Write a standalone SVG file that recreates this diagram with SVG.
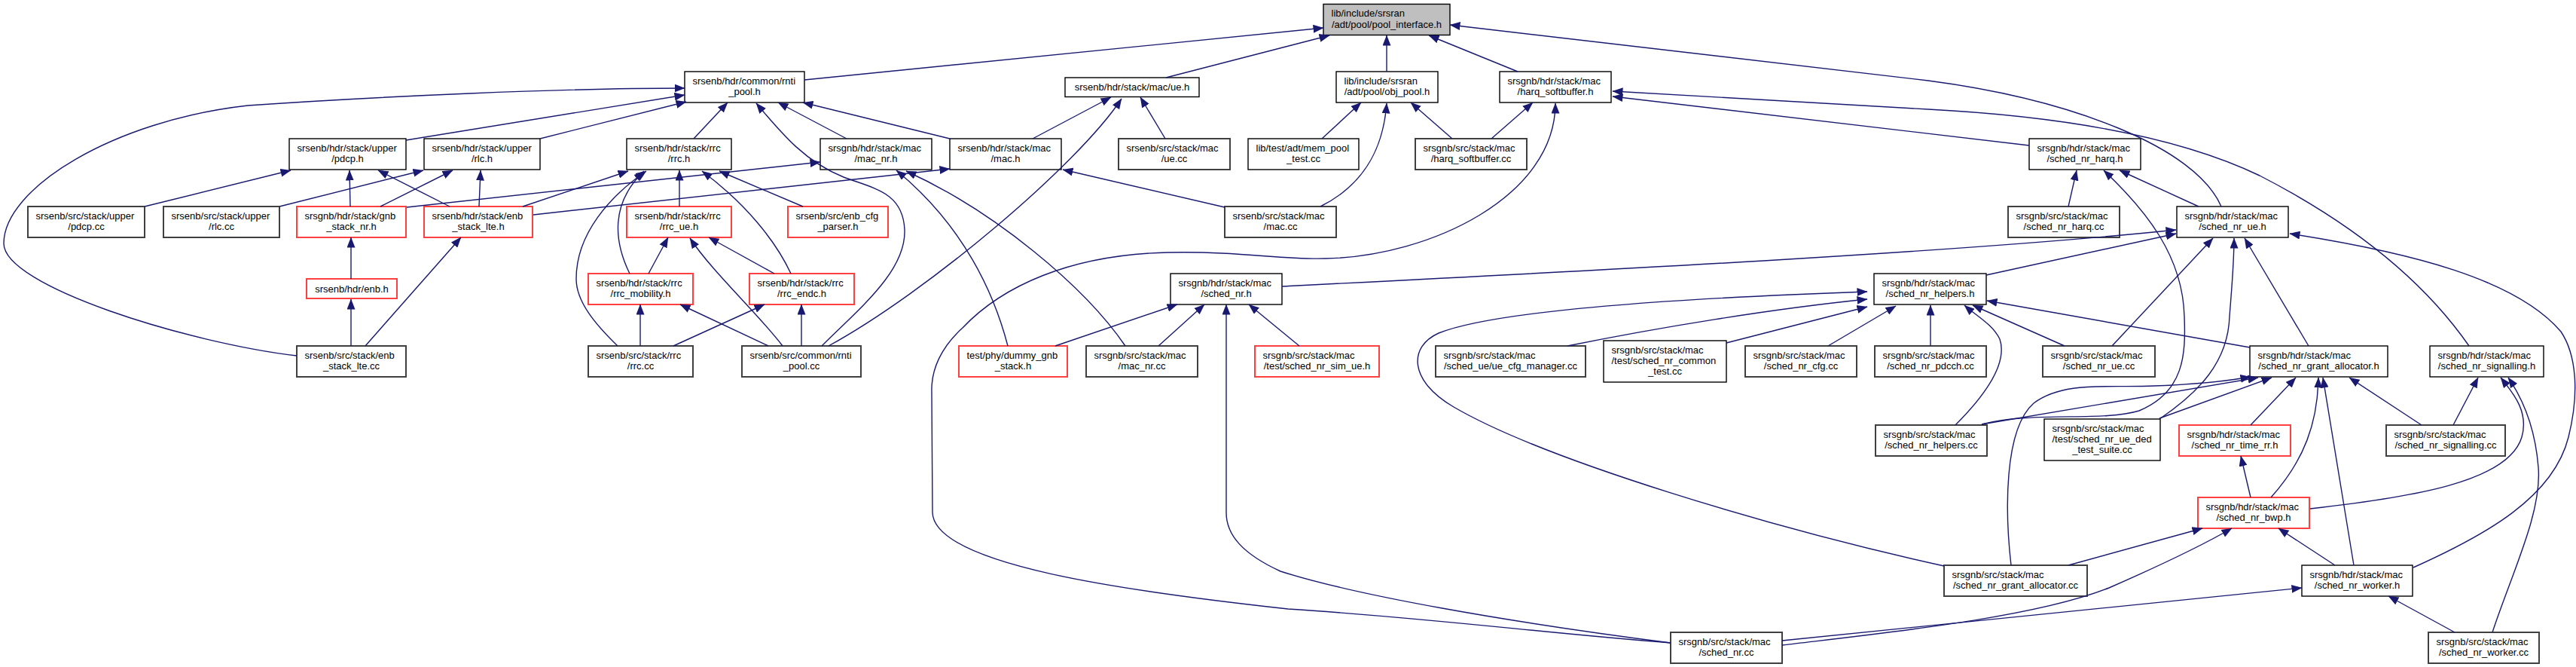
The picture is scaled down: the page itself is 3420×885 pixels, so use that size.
<svg xmlns="http://www.w3.org/2000/svg" width="3420" height="885" viewBox="0 0 3420 885">
<style>
text{font-family:"Liberation Sans",Arial,Helvetica,sans-serif;font-size:13px;fill:#000}
.c{text-anchor:middle}
rect.b{fill:#fff;stroke:#000;stroke-width:1.4}
rect.g{fill:#fff;stroke:#404040;stroke-width:2}
rect.r{fill:#fff;stroke:#ff4040;stroke-width:2}
rect.root{fill:#bfbfbf;stroke:#000;stroke-width:1.4}
#edges path{fill:none;stroke:#191970;stroke-width:1.4;marker-end:url(#a)}
</style>
<defs>
<marker id="a" markerUnits="userSpaceOnUse" markerWidth="14" markerHeight="11" refX="13.5" refY="5.5" orient="auto" viewBox="0 0 14 11"><path d="M0,0 L14,5.5 L0,11 z" fill="#191970"/></marker>
</defs>
<rect width="3420" height="885" fill="#fff"/>
<g id="nodes">
<g id="pool_interface"><rect class="root" x="1757" y="5.5" width="168" height="41"/><text x="1767.5" y="22.3">lib/include/srsran</text><text class="c" x="1841" y="36.7">/adt/pool/pool_interface.h</text></g>
<g id="rnti_pool_h"><rect class="b" x="909" y="95" width="159" height="41"/><text x="919.5" y="111.8">srsenb/hdr/common/rnti</text><text class="c" x="988.5" y="126.2">_pool.h</text></g>
<g id="ue_h"><rect class="b" x="1414" y="103" width="178" height="25.5"/><text class="c" x="1503" y="120.3">srsenb/hdr/stack/mac/ue.h</text></g>
<g id="obj_pool_h"><rect class="b" x="1774" y="95" width="135" height="41"/><text x="1784.5" y="111.8">lib/include/srsran</text><text class="c" x="1841.5" y="126.2">/adt/pool/obj_pool.h</text></g>
<g id="harq_sb_h"><rect class="b" x="1991" y="95" width="148" height="41"/><text x="2001.5" y="111.8">srsgnb/hdr/stack/mac</text><text class="c" x="2065" y="126.2">/harq_softbuffer.h</text></g>
<g id="pdcp_h"><rect class="b" x="384" y="184" width="155" height="41"/><text x="394.5" y="200.8">srsenb/hdr/stack/upper</text><text class="c" x="461.5" y="215.2">/pdcp.h</text></g>
<g id="rlc_h"><rect class="b" x="563" y="184" width="154" height="41"/><text x="573.5" y="200.8">srsenb/hdr/stack/upper</text><text class="c" x="640" y="215.2">/rlc.h</text></g>
<g id="rrc_h"><rect class="b" x="832" y="184" width="139" height="41"/><text x="842.5" y="200.8">srsenb/hdr/stack/rrc</text><text class="c" x="901.5" y="215.2">/rrc.h</text></g>
<g id="mac_nr_h"><rect class="b" x="1089" y="184" width="148" height="41"/><text x="1099.5" y="200.8">srsgnb/hdr/stack/mac</text><text class="c" x="1163" y="215.2">/mac_nr.h</text></g>
<g id="mac_h"><rect class="b" x="1261" y="184" width="148" height="41"/><text x="1271.5" y="200.8">srsenb/hdr/stack/mac</text><text class="c" x="1335" y="215.2">/mac.h</text></g>
<g id="ue_cc"><rect class="g" x="1485" y="184" width="148" height="41"/><text x="1495.5" y="200.8">srsenb/src/stack/mac</text><text class="c" x="1559" y="215.2">/ue.cc</text></g>
<g id="mem_pool_test"><rect class="b" x="1657" y="184" width="147" height="41"/><text x="1667.5" y="200.8">lib/test/adt/mem_pool</text><text class="c" x="1730.5" y="215.2">_test.cc</text></g>
<g id="harq_sb_cc"><rect class="g" x="1879" y="184" width="148" height="41"/><text x="1889.5" y="200.8">srsgnb/src/stack/mac</text><text class="c" x="1953" y="215.2">/harq_softbuffer.cc</text></g>
<g id="sched_nr_harq_h"><rect class="b" x="2694" y="184" width="148" height="41"/><text x="2704.5" y="200.8">srsgnb/hdr/stack/mac</text><text class="c" x="2768" y="215.2">/sched_nr_harq.h</text></g>
<g id="pdcp_cc"><rect class="g" x="37" y="274" width="155" height="41"/><text x="47.5" y="290.8">srsenb/src/stack/upper</text><text class="c" x="114.5" y="305.2">/pdcp.cc</text></g>
<g id="rlc_cc"><rect class="g" x="217" y="274" width="154" height="41"/><text x="227.5" y="290.8">srsenb/src/stack/upper</text><text class="c" x="294" y="305.2">/rlc.cc</text></g>
<g id="gnb_stack_nr_h"><rect class="r" x="394" y="274" width="145" height="41"/><text x="404.5" y="290.8">srsgnb/hdr/stack/gnb</text><text class="c" x="466.5" y="305.2">_stack_nr.h</text></g>
<g id="enb_stack_lte_h"><rect class="r" x="563" y="274" width="144" height="41"/><text x="573.5" y="290.8">srsenb/hdr/stack/enb</text><text class="c" x="635" y="305.2">_stack_lte.h</text></g>
<g id="rrc_ue_h"><rect class="r" x="832" y="274" width="139" height="41"/><text x="842.5" y="290.8">srsenb/hdr/stack/rrc</text><text class="c" x="901.5" y="305.2">/rrc_ue.h</text></g>
<g id="enb_cfg_parser_h"><rect class="r" x="1046" y="274" width="133" height="41"/><text x="1056.5" y="290.8">srsenb/src/enb_cfg</text><text class="c" x="1112.5" y="305.2">_parser.h</text></g>
<g id="mac_cc"><rect class="g" x="1626" y="274" width="148" height="41"/><text x="1636.5" y="290.8">srsenb/src/stack/mac</text><text class="c" x="1700" y="305.2">/mac.cc</text></g>
<g id="sched_nr_harq_cc"><rect class="g" x="2666" y="274" width="148" height="41"/><text x="2676.5" y="290.8">srsgnb/src/stack/mac</text><text class="c" x="2740" y="305.2">/sched_nr_harq.cc</text></g>
<g id="sched_nr_ue_h"><rect class="b" x="2890" y="274" width="148" height="41"/><text x="2900.5" y="290.8">srsgnb/hdr/stack/mac</text><text class="c" x="2964" y="305.2">/sched_nr_ue.h</text></g>
<g id="enb_h"><rect class="r" x="407" y="370" width="120" height="26"/><text class="c" x="467" y="387.5">srsenb/hdr/enb.h</text></g>
<g id="rrc_mobility_h"><rect class="r" x="781" y="363" width="139" height="41"/><text x="791.5" y="379.8">srsenb/hdr/stack/rrc</text><text class="c" x="850.5" y="394.2">/rrc_mobility.h</text></g>
<g id="rrc_endc_h"><rect class="r" x="995" y="363" width="139" height="41"/><text x="1005.5" y="379.8">srsenb/hdr/stack/rrc</text><text class="c" x="1064.5" y="394.2">/rrc_endc.h</text></g>
<g id="sched_nr_h"><rect class="b" x="1554" y="363" width="148" height="41"/><text x="1564.5" y="379.8">srsgnb/hdr/stack/mac</text><text class="c" x="1628" y="394.2">/sched_nr.h</text></g>
<g id="helpers_h"><rect class="b" x="2488" y="363" width="149" height="41"/><text x="2498.5" y="379.8">srsgnb/hdr/stack/mac</text><text class="c" x="2562.5" y="394.2">/sched_nr_helpers.h</text></g>
<g id="enb_stack_lte_cc"><rect class="g" x="394" y="459" width="145" height="41"/><text x="404.5" y="475.8">srsenb/src/stack/enb</text><text class="c" x="466.5" y="490.2">_stack_lte.cc</text></g>
<g id="rrc_cc"><rect class="g" x="781" y="459" width="139" height="41"/><text x="791.5" y="475.8">srsenb/src/stack/rrc</text><text class="c" x="850.5" y="490.2">/rrc.cc</text></g>
<g id="rnti_pool_cc"><rect class="g" x="985" y="459" width="158" height="41"/><text x="995.5" y="475.8">srsenb/src/common/rnti</text><text class="c" x="1064" y="490.2">_pool.cc</text></g>
<g id="dummy_gnb"><rect class="r" x="1273" y="459" width="144" height="41"/><text x="1283.5" y="475.8">test/phy/dummy_gnb</text><text class="c" x="1345" y="490.2">_stack.h</text></g>
<g id="mac_nr_cc"><rect class="g" x="1442" y="459" width="148" height="41"/><text x="1452.5" y="475.8">srsgnb/src/stack/mac</text><text class="c" x="1516" y="490.2">/mac_nr.cc</text></g>
<g id="sim_ue_h"><rect class="r" x="1666" y="459" width="165" height="41"/><text x="1676.5" y="475.8">srsgnb/src/stack/mac</text><text class="c" x="1748.5" y="490.2">/test/sched_nr_sim_ue.h</text></g>
<g id="ue_cfg_manager"><rect class="g" x="1906" y="459" width="199" height="41"/><text x="1916.5" y="475.8">srsgnb/src/stack/mac</text><text class="c" x="2005.5" y="490.2">/sched_ue/ue_cfg_manager.cc</text></g>
<g id="common_test"><rect class="b" x="2129" y="452" width="163" height="55"/><text x="2139.5" y="468.6">srsgnb/src/stack/mac</text><text x="2139.5" y="483">/test/sched_nr_common</text><text class="c" x="2210.5" y="497.4">_test.cc</text></g>
<g id="cfg_cc"><rect class="g" x="2317" y="459" width="148" height="41"/><text x="2327.5" y="475.8">srsgnb/src/stack/mac</text><text class="c" x="2391" y="490.2">/sched_nr_cfg.cc</text></g>
<g id="pdcch_cc"><rect class="g" x="2489" y="459" width="148" height="41"/><text x="2499.5" y="475.8">srsgnb/src/stack/mac</text><text class="c" x="2563" y="490.2">/sched_nr_pdcch.cc</text></g>
<g id="sched_nr_ue_cc"><rect class="g" x="2712" y="459" width="149" height="41"/><text x="2722.5" y="475.8">srsgnb/src/stack/mac</text><text class="c" x="2786.5" y="490.2">/sched_nr_ue.cc</text></g>
<g id="grant_alloc_h"><rect class="b" x="2987" y="459" width="183" height="41"/><text x="2997.5" y="475.8">srsgnb/hdr/stack/mac</text><text class="c" x="3078.5" y="490.2">/sched_nr_grant_allocator.h</text></g>
<g id="signalling_h"><rect class="b" x="3226" y="459" width="151" height="41"/><text x="3236.5" y="475.8">srsgnb/hdr/stack/mac</text><text class="c" x="3301.5" y="490.2">/sched_nr_signalling.h</text></g>
<g id="helpers_cc"><rect class="g" x="2490" y="564" width="148" height="41"/><text x="2500.5" y="580.8">srsgnb/src/stack/mac</text><text class="c" x="2564" y="595.2">/sched_nr_helpers.cc</text></g>
<g id="ue_ded_test"><rect class="b" x="2714" y="556" width="154" height="55"/><text x="2724.5" y="572.6">srsgnb/src/stack/mac</text><text x="2724.5" y="587">/test/sched_nr_ue_ded</text><text class="c" x="2791" y="601.4">_test_suite.cc</text></g>
<g id="time_rr_h"><rect class="r" x="2893" y="564" width="148" height="41"/><text x="2903.5" y="580.8">srsgnb/hdr/stack/mac</text><text class="c" x="2967" y="595.2">/sched_nr_time_rr.h</text></g>
<g id="signalling_cc"><rect class="g" x="3168" y="564" width="158" height="41"/><text x="3178.5" y="580.8">srsgnb/src/stack/mac</text><text class="c" x="3247" y="595.2">/sched_nr_signalling.cc</text></g>
<g id="bwp_h"><rect class="r" x="2918" y="660" width="148" height="41"/><text x="2928.5" y="676.8">srsgnb/hdr/stack/mac</text><text class="c" x="2992" y="691.2">/sched_nr_bwp.h</text></g>
<g id="grant_alloc_cc"><rect class="g" x="2581" y="750" width="190" height="41"/><text x="2591.5" y="766.8">srsgnb/src/stack/mac</text><text class="c" x="2676" y="781.2">/sched_nr_grant_allocator.cc</text></g>
<g id="worker_h"><rect class="b" x="3056" y="750" width="147" height="41"/><text x="3066.5" y="766.8">srsgnb/hdr/stack/mac</text><text class="c" x="3129.5" y="781.2">/sched_nr_worker.h</text></g>
<g id="sched_nr_cc"><rect class="g" x="2218" y="839" width="148" height="41"/><text x="2228.5" y="855.8">srsgnb/src/stack/mac</text><text class="c" x="2292" y="870.2">/sched_nr.cc</text></g>
<g id="worker_cc"><rect class="g" x="3224" y="839" width="147" height="41"/><text x="3234.5" y="855.8">srsgnb/src/stack/mac</text><text class="c" x="3297.5" y="870.2">/sched_nr_worker.cc</text></g>
</g>
<g id="edges">
<path d="M1068,106 L1757,37"/>
<path d="M1548,103 L1765,47"/>
<path d="M1841,95 L1841,47"/>
<path d="M2015,95 L1897,47"/>
<path d="M2949,274 C2915,195 2750,132 2560,107 L1925,33"/>
<path d="M1091,459 C1140,410 1203,360 1201,305 C1199,255 1160,250 1120,235 C1070,215 1040,180 1004,137"/>
<path d="M1100,459 C1230,388 1430,220 1489,131"/>
<path d="M921,184 L966,136"/>
<path d="M1124,184 L1033,136"/>
<path d="M1261,184 L1066,136"/>
<path d="M394,472 C250,455 5,380 5,323 C5,250 150,160 329,140 C500,128 750,117 909,117"/>
<path d="M539,186 L909,126"/>
<path d="M717,184 L911,135"/>
<path d="M1371,184 L1475,129"/>
<path d="M1547,184 L1514,129"/>
<path d="M1755,184 L1807,136"/>
<path d="M1753,274 C1805,248 1836,205 1841,137"/>
<path d="M1928,184 L1873,136"/>
<path d="M1980,184 L2035,136"/>
<path d="M2218,853 C2050,840 1900,820 1710,808 C1500,785 1240,750 1238,680 L1237,520 C1236,490 1250,460 1278,435 C1330,380 1420,338 1550,335 C1650,333 1700,345 1760,343 C1900,340 2065,260 2065,137"/>
<path d="M2694,193 L2141,128"/>
<path d="M3278,459 C3230,390 3150,310 3000,233 C2900,185 2750,155 2560,145 L2141,121"/>
<path d="M2919,274 L2814,226"/>
<path d="M2746,274 L2757,226"/>
<path d="M2631,563 C2700,545 2790,560 2840,545 C2900,520 2902,470 2900,420 C2898,340 2850,280 2793,226"/>
<path d="M1702,380 C2100,360 2600,335 2889,305"/>
<path d="M2637,365 L2889,310"/>
<path d="M2804,459 L2938,316"/>
<path d="M2867,556 C2920,520 2958,480 2960,420 C2963,380 2966,350 2966,316"/>
<path d="M3065,459 L2980,316"/>
<path d="M3204,753 C3300,710 3390,660 3410,580 C3425,520 3420,470 3400,440 C3340,370 3200,335 3040,310"/>
<path d="M2581,751 C2350,700 2050,610 1930,540 C1870,505 1870,460 1910,442 C1990,410 2250,395 2479,387"/>
<path d="M2081,459 C2200,435 2350,410 2479,397"/>
<path d="M2292,455 L2479,407"/>
<path d="M2427,459 L2517,406"/>
<path d="M2563,459 L2563,405"/>
<path d="M2596,564 C2640,520 2665,480 2655,450 C2645,430 2625,420 2608,405"/>
<path d="M2741,459 L2619,405"/>
<path d="M2987,461 L2638,399"/>
<path d="M1401,459 L1563,404"/>
<path d="M1538,459 L1599,404"/>
<path d="M2218,853 C2000,825 1800,790 1700,758 C1650,735 1628,710 1628,680 L1628,404"/>
<path d="M1725,459 L1658,404"/>
<path d="M540,275 L1089,215"/>
<path d="M1338,459 C1320,390 1280,300 1190,226"/>
<path d="M1494,459 C1440,380 1320,280 1203,227"/>
<path d="M708,285 L1261,224"/>
<path d="M1626,275 L1411,225"/>
<path d="M694,274 L834,227"/>
<path d="M836,363 C815,320 810,270 855,227"/>
<path d="M820,459 C790,430 765,400 765,370 C765,310 810,260 858,227"/>
<path d="M902,274 L902,226"/>
<path d="M1050,363 C1030,320 990,270 932,227"/>
<path d="M1066,274 L955,227"/>
<path d="M861,363 L887,315"/>
<path d="M1039,459 C1010,420 945,360 916,316"/>
<path d="M1028,363 L941,315"/>
<path d="M850,459 L850,404"/>
<path d="M1020,459 L903,404"/>
<path d="M894,459 L1015,404"/>
<path d="M1064,459 L1064,404"/>
<path d="M466,370 L466,315"/>
<path d="M465,274 L464,226"/>
<path d="M505,274 L601,226"/>
<path d="M485,459 L612,315"/>
<path d="M597,274 L502,226"/>
<path d="M636,274 L638,226"/>
<path d="M466,459 L466,397"/>
<path d="M192,274 L386,226"/>
<path d="M371,274 L562,226"/>
<path d="M2670,750 C2662,680 2660,570 2700,535 C2740,505 2800,515 2860,512 C2920,510 2960,505 2988,500"/>
<path d="M2631,563 L2998,501"/>
<path d="M2867,555 L3016,501"/>
<path d="M2988,564 L3048,501"/>
<path d="M3015,660 C3060,610 3077,560 3078,501"/>
<path d="M3125,750 L3084,501"/>
<path d="M3215,564 L3119,501"/>
<path d="M3257,564 L3290,501"/>
<path d="M3067,675 C3200,660 3330,640 3348,580 C3358,545 3335,520 3320,501"/>
<path d="M3309,839 C3335,760 3375,680 3370,620 C3366,570 3350,530 3330,501"/>
<path d="M2988,660 L2975,605"/>
<path d="M2746,750 L2924,701"/>
<path d="M2366,856 C2500,840 2700,820 2800,780 C2880,745 2930,720 2963,701"/>
<path d="M3100,750 L3025,701"/>
<path d="M2366,850 L3056,780"/>
<path d="M3259,839 L3171,791"/>
</g>
</svg>
